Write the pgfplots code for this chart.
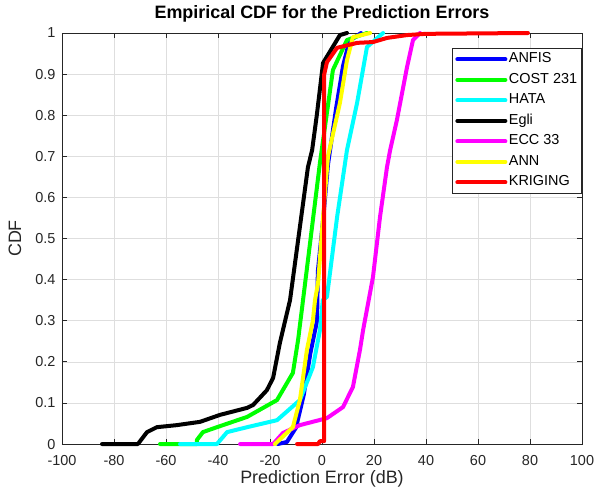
\documentclass[border=0pt]{standalone}
\usepackage{pgfplots}
\pgfplotsset{compat=1.18}
\usepackage{fontspec}
\setmainfont{Liberation Sans}
\definecolor{axgray}{gray}{0.15}
\definecolor{gridgray}{gray}{0.87}
\definecolor{cBlue}{rgb}{0,0,1}
\definecolor{cGreen}{rgb}{0,1,0}
\definecolor{cCyan}{rgb}{0,1,1}
\definecolor{cMagenta}{rgb}{1,0,1}
\definecolor{cYellow}{rgb}{1,1,0}
\definecolor{cRed}{rgb}{1,0,0}

\begin{document}
\begin{tikzpicture}
\begin{axis}[
  scale only axis, width=520bp, height=411bp,
  xmin=-100, xmax=100, ymin=0, ymax=1,
  xtick={-100,-80,-60,-40,-20,0,20,40,60,80,100},
  ytick={0,0.1,0.2,0.3,0.4,0.5,0.6,0.7,0.8,0.9,1},
  yticklabels={0,0.1,0.2,0.3,0.4,0.5,0.6,0.7,0.8,0.9,1},
  grid=major, grid style={gridgray, line width=0.6bp},
  axis line style={axgray, line width=0.8bp},
  tick style={axgray, line width=0.8bp},
  tick align=inside, major tick length=5bp, tick pos=both,
  /pgf/number format/assume math mode=true,
  ticklabel style={font=\fontsize{14.5}{16}\selectfont, text=axgray},
  xticklabel style={anchor=center, yshift=-16bp},
  yticklabel style={anchor=east, xshift=-3bp},
  xlabel={Prediction Error (dB)}, ylabel={CDF},
  label style={font=\fontsize{18}{20}\selectfont, text=axgray},
  xlabel style={at={(axis description cs:0.5,-0.0949)}, anchor=base},
  ylabel style={at={(axis description cs:-0.0904,0.5)}, anchor=center},
  title={Empirical CDF for the Prediction Errors},
  title style={font=\bfseries\fontsize{18}{20}\selectfont, at={(axis description cs:0.5,1.0219)}, anchor=base},
  clip=false,
  every axis plot/.append style={line width=4bp, line join=round, line cap=round},
  legend cell align=left,
  legend style={at={(1,0.9635)}, anchor=north east, draw=axgray, line width=0.8bp,
    fill=white, font=\fontsize{14.5}{16}\selectfont, text=black,
    inner xsep=3bp, inner ysep=3bp, row sep=4.5bp,
    nodes={inner sep=1.5bp, text height=10bp, text depth=3bp}},
  legend image code/.code={\draw[#1] (0bp,0bp) -- (48bp,0bp);},
]
% ANFIS
\addplot[cBlue] coordinates {
(-17,0) (-13.5,0.005) (-10,0.04) (-7,0.12) (-4.5,0.22) (-1.9,0.30) (-1.6,0.42)
(0.5,0.55) (2.3,0.68) (5.5,0.82) (8.1,0.92) (10.5,0.98) (15,1)};
% COST 231
\addplot[cGreen] coordinates {
(-62.3,0) (-48.1,0) (-48.1,0.01) (-45.8,0.029) (-40.4,0.041) (-28.8,0.066)
(-17.3,0.107) (-11.2,0.173) (-9.2,0.253) (-7.3,0.350) (-0.8,0.684)
(4.2,0.910) (9.6,0.983) (17.3,1)};
% HATA
\addplot[cCyan] coordinates {
(-54.6,0) (-40.4,0) (-36.5,0.029) (-28.8,0.041) (-17.3,0.058) (-8.5,0.107)
(-3.5,0.187) (-0.8,0.277) (0.3,0.350) (1.9,0.358) (5.8,0.552) (9.6,0.715)
(13.5,0.830) (17.3,0.966) (23.5,1)};
% Egli
\addplot[black] coordinates {
(-84.6,0) (-70.8,0) (-67.3,0.029) (-63.5,0.041) (-55.8,0.046) (-46.9,0.054)
(-39.2,0.071) (-28.8,0.088) (-26.5,0.095) (-21.2,0.131) (-18.8,0.161)
(-16.2,0.246) (-12.3,0.350) (-5.4,0.674) (-3.8,0.715) (-2,0.80) (0.4,0.927)
(6.9,0.995) (9.6,1)};
% ECC 33
\addplot[cMagenta] coordinates {
(-31.5,0) (-18.8,0) (-15,0.027) (-8.5,0.046) (1.9,0.063) (8.1,0.090)
(11.9,0.139) (14.6,0.229) (15.8,0.277) (19.6,0.406) (22.3,0.552) (25,0.674)
(26.2,0.715) (28.8,0.788) (32.7,0.917) (35,0.983) (37.7,1)};
% ANN
\addplot[cYellow] coordinates {
(-18.1,0) (-11.2,0.041) (-8.5,0.107) (-5.8,0.229) (-3.5,0.300) (-2.7,0.350)
(-1.5,0.392) (0.4,0.552) (2.3,0.700) (6.9,0.830) (9.6,0.934) (11.9,0.990)
(18.5,1)};
% KRIGING
\addplot[cRed] coordinates {
(-9.6,0) (-1.5,0) (-0.8,0.007) (0.8,0.007) (0.8,0.898) (1.9,0.929)
(5.8,0.964) (13.5,0.976) (19.6,0.978) (25,0.988) (32.7,0.995) (40,0.998)
(79.2,1)};
\legend{ANFIS,COST 231,HATA,Egli,ECC 33,ANN,KRIGING}
\coordinate (bbsw) at (rel axis cs:-0.1192,-0.1265);
\coordinate (bbne) at (rel axis cs:1.0269,1.0803);
\end{axis}
\pgfresetboundingbox
\path[use as bounding box] (bbsw) rectangle (bbne);
\end{tikzpicture}
\end{document}
